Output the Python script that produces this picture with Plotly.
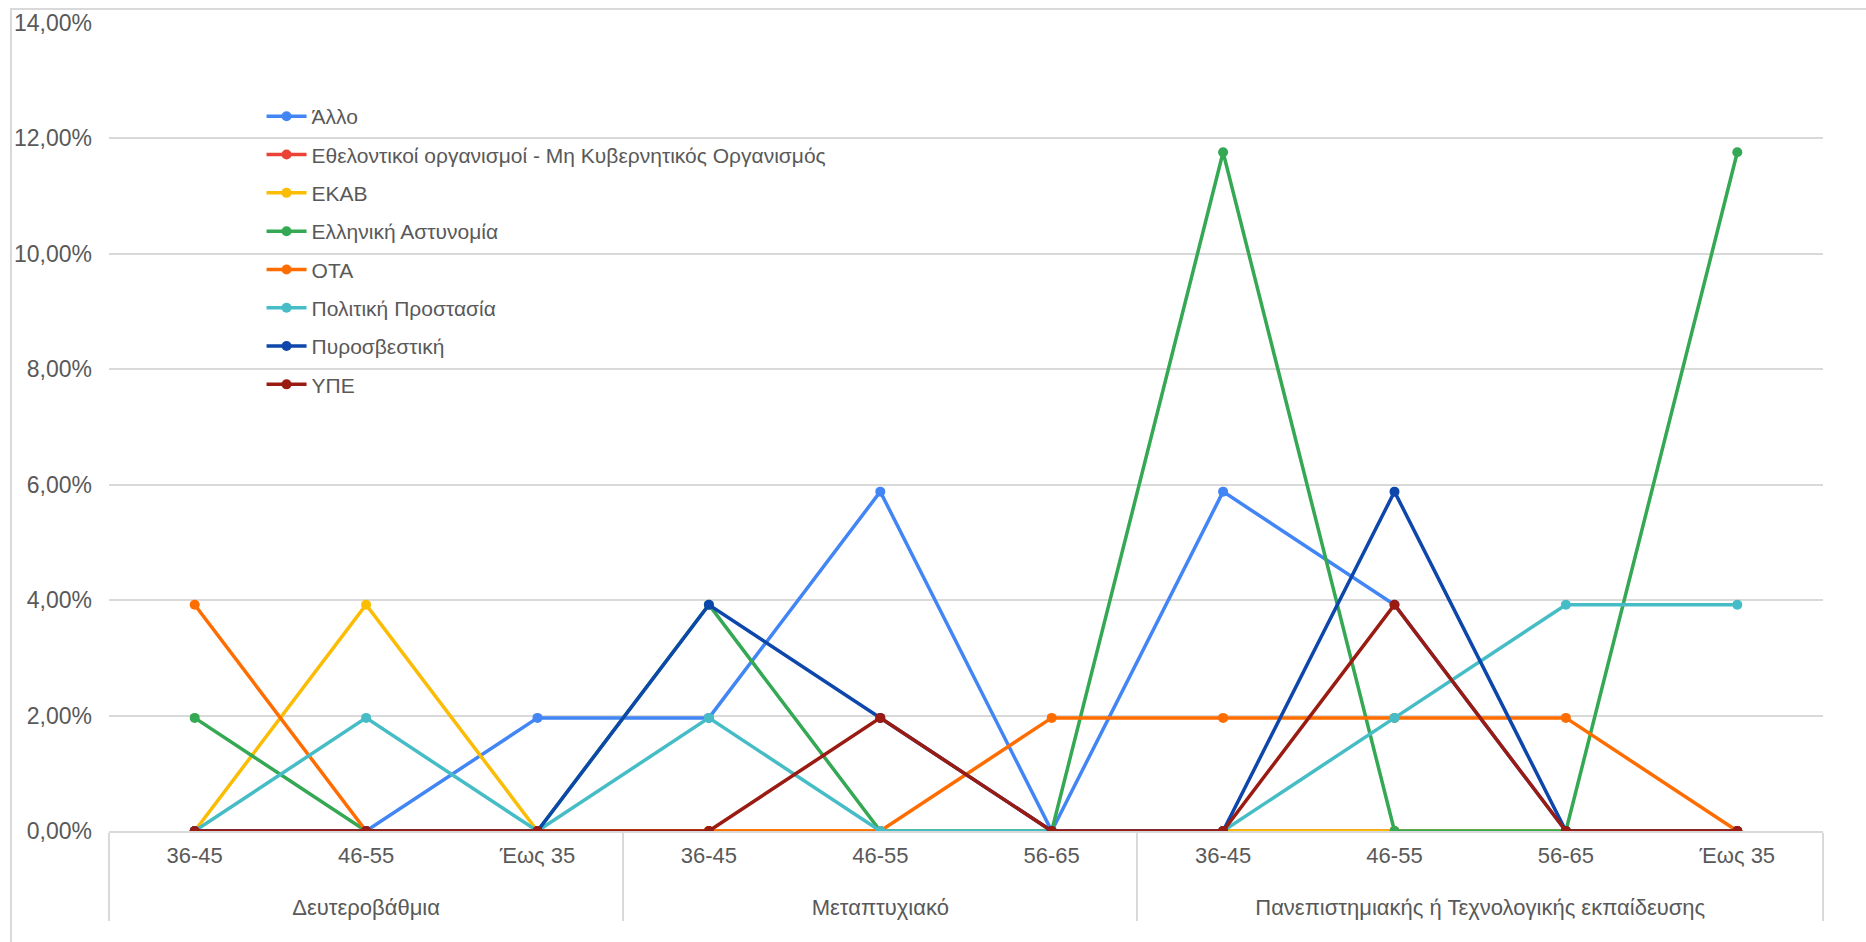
import plotly.graph_objects as go

# Education level (outer) and age group (inner) for each point on the x axis
education = [
    "Δευτεροβάθμια", "Δευτεροβάθμια", "Δευτεροβάθμια",
    "Μεταπτυχιακό", "Μεταπτυχιακό", "Μεταπτυχιακό",
    "Πανεπιστημιακής ή Τεχνολογικής εκπαίδευσης",
    "Πανεπιστημιακής ή Τεχνολογικής εκπαίδευσης",
    "Πανεπιστημιακής ή Τεχνολογικής εκπαίδευσης",
    "Πανεπιστημιακής ή Τεχνολογικής εκπαίδευσης",
]
age_group = ["36-45", "46-55", "Έως 35",
             "36-45", "46-55", "56-65",
             "36-45", "46-55", "56-65", "Έως 35"]

# Order in which age groups are listed inside each education level
age_order = ["36-45", "46-55", "56-65", "Έως 35"]

# Share of respondents per organisation (fractions)
allo         = [0.0, 0.0, 0.0196, 0.0196, 0.0588, 0.0, 0.0588, 0.0392, 0.0, 0.0]
ethelontikoi = [0.0, 0.0, 0.0, 0.0, 0.0, 0.0, 0.0, 0.0, 0.0, 0.0]
ekav         = [0.0, 0.0392, 0.0, 0.0, 0.0, 0.0, 0.0, 0.0, 0.0, 0.0]
astynomia    = [0.0196, 0.0, 0.0, 0.0392, 0.0, 0.0, 0.1176, 0.0, 0.0, 0.1176]
ota          = [0.0392, 0.0, 0.0, 0.0, 0.0, 0.0196, 0.0196, 0.0196, 0.0196, 0.0]
politiki     = [0.0, 0.0196, 0.0, 0.0196, 0.0, 0.0, 0.0, 0.0196, 0.0392, 0.0392]
pyrosvestiki = [0.0, 0.0, 0.0, 0.0392, 0.0196, 0.0, 0.0, 0.0588, 0.0, 0.0]
ype          = [0.0, 0.0, 0.0, 0.0, 0.0196, 0.0, 0.0, 0.0392, 0.0, 0.0]

series = [
    ("Άλλο", allo, "#4285F4"),
    ("Εθελοντικοί οργανισμοί - Μη Κυβερνητικός Οργανισμός", ethelontikoi, "#EA4335"),
    ("ΕΚΑΒ", ekav, "#FBBC04"),
    ("Ελληνική Αστυνομία", astynomia, "#34A853"),
    ("ΟΤΑ", ota, "#FF6D01"),
    ("Πολιτική Προστασία", politiki, "#46BDC6"),
    ("Πυροσβεστική", pyrosvestiki, "#0D47AB"),
    ("ΥΠΕ", ype, "#9A1B12"),
]

y_ticks = [0, 0.02, 0.04, 0.06, 0.08, 0.10, 0.12, 0.14]

FONT = "Liberation Sans, Arial, sans-serif"
GREY_TEXT = "#595959"
GRID = "#d9d9d9"

# Education labels sit one line lower, below the age-group row
edu_labels = ["<br>" + e for e in education]

fig = go.Figure()

# Plotly orders multicategory labels by first appearance, so register the
# category pairs first with the age groups in their natural order (no points drawn).
pairs = sorted(zip(edu_labels, age_group), key=lambda p: age_order.index(p[1]))
fig.add_trace(go.Scatter(
    x=[[p[0] for p in pairs], [p[1] for p in pairs]],
    y=[None] * len(pairs),
    mode="markers",
    showlegend=False,
    hoverinfo="skip",
))

for name, vals, color in series:
    fig.add_trace(go.Scatter(
        x=[edu_labels, age_group],
        y=vals,
        name=name,
        legendgroup=name,
        mode="lines+markers",
        line=dict(color=color, width=3.5),
        marker=dict(color=color, size=10),
    ))

fig.update_layout(
    width=1866,
    height=942,
    margin=dict(l=109, r=43, t=23, b=111),
    paper_bgcolor="white",
    plot_bgcolor="white",
    separators=",.",
    font=dict(family=FONT, size=21, color=GREY_TEXT),
    showlegend=True,
    legend=dict(
        x=0.089, y=0.9095, xanchor="left", yanchor="top",
        bgcolor="rgba(0,0,0,0)",
        font=dict(family=FONT, size=21, color=GREY_TEXT),
        traceorder="grouped",
        tracegroupgap=8.0,
        itemwidth=40,
    ),
    xaxis=dict(
        type="multicategory",
        range=[-0.5, 9.5],
        automargin=False,
        showgrid=False,
        showline=True,
        linecolor=GRID,
        linewidth=2,
        showdividers=True,
        dividercolor=GRID,
        dividerwidth=2,
        ticks="",
        ticklabelstandoff=4,
        tickfont=dict(family=FONT, size=22, color=GREY_TEXT),
    ),
    yaxis=dict(
        range=[0, 0.14],
        tickvals=y_ticks,
        tickformat=".2%",
        automargin=False,
        showgrid=True,
        gridcolor=GRID,
        gridwidth=2,
        zeroline=False,
        showline=False,
        ticks="",
        ticklabelstandoff=16,
        tickfont=dict(family=FONT, size=23, color=GREY_TEXT),
    ),
)

# Light outer frame around the chart area
fig.add_shape(
    type="rect", xref="paper", yref="paper",
    x0=-0.0572, x1=1.03, y0=-0.145, y1=1.0173,
    line=dict(color=GRID, width=2), fillcolor="rgba(0,0,0,0)",
    layer="below",
)

fig.write_html("out.html")
